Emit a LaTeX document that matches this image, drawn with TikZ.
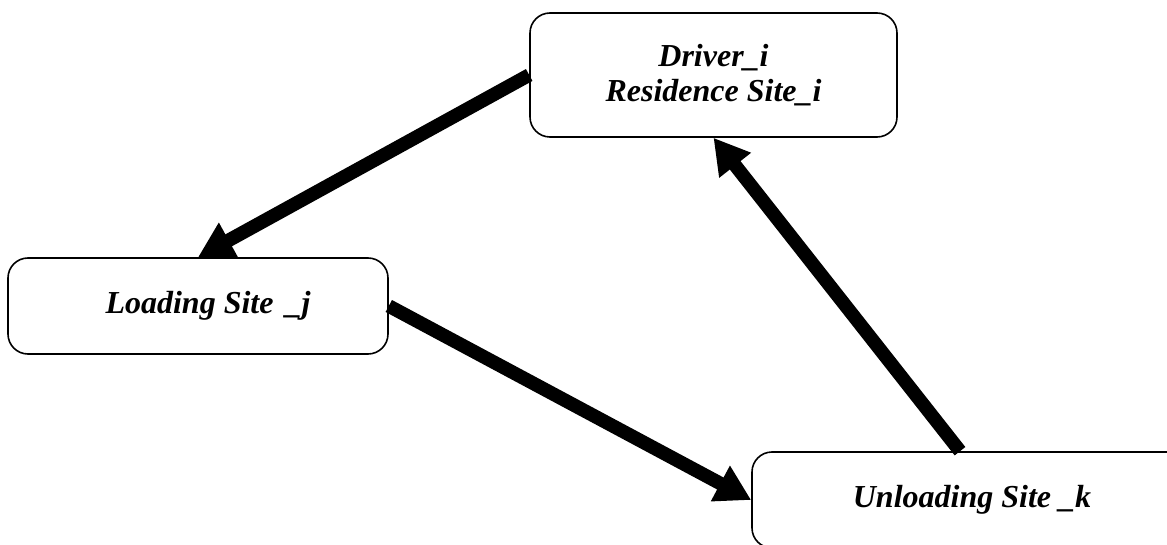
\documentclass[tikz,border=0pt]{standalone}
\usepackage{fontspec}
\setmainfont{Liberation Serif}
\usetikzlibrary{arrows.meta}

\begin{document}
\begin{tikzpicture}[x=0.5pt, y=-0.5pt,
  site/.style={draw, line width=0.8pt, rounded corners=10pt, align=center, inner sep=0pt,
    font=\fontsize{16}{17.5}\selectfont\bfseries\itshape},
  flow/.style={line width=6.8pt, -{Triangle[length=17.5pt,width=19pt]}}]
  \useasboundingbox (0,0) rectangle (1167,545);
  \clip (0,0) rectangle (1167,545);
  \node[site, minimum width=183.5pt, minimum height=62pt] (drv) at (713.5,75) {Driver\_i\\Residence Site\_i};
  \node[site, minimum width=190pt, minimum height=48pt] (load) at (198,306) {\hspace*{10pt}Loading Site\hspace{2pt} \_j};
  \node[site, minimum width=220pt, minimum height=48pt] (unload) at (972,500) {Unloading Site \_k};
  \draw[flow] (drv.west) -- (load.north);
  \draw[flow] (load.east) -- (unload.west);
  \draw[flow] ([xshift=-6pt]unload.north) -- (drv.south);
\end{tikzpicture}
\end{document}
